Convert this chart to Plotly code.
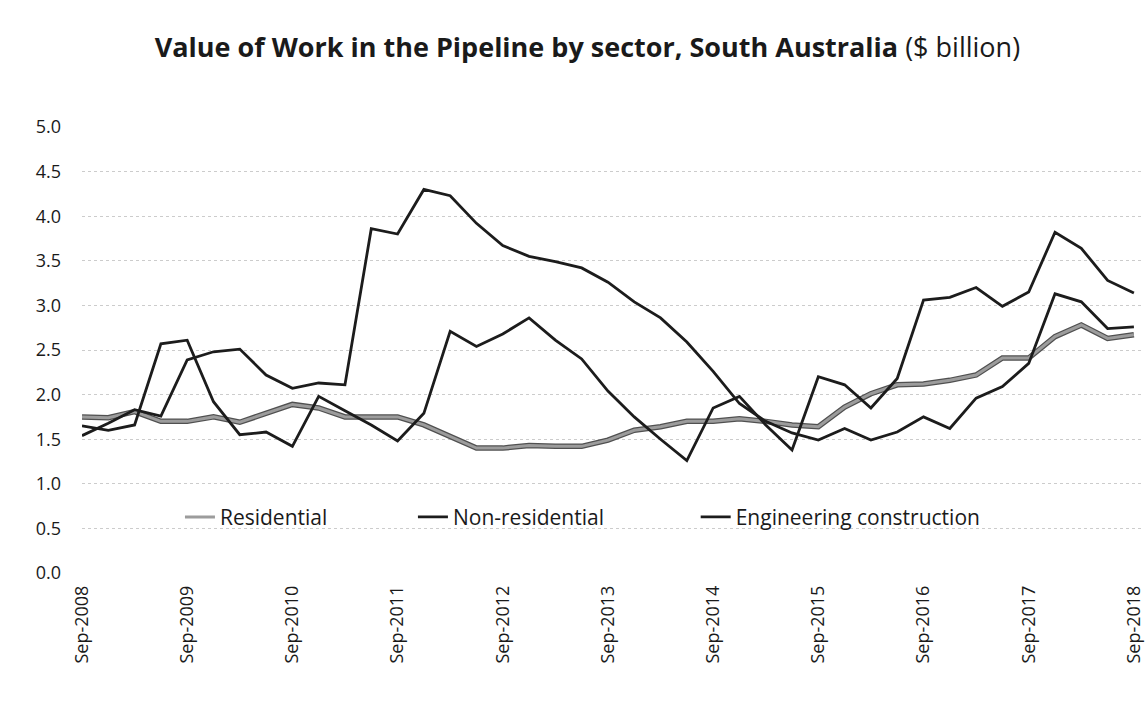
import plotly.graph_objects as go

years = list(range(2008, 2019))
tick_labels = [f"Sep-{y}" for y in years]
quarters = list(range(41))  # Sep-2008 .. Sep-2018, quarterly

residential = [1.75, 1.74, 1.81, 1.70, 1.70, 1.75, 1.69, 1.79, 1.89, 1.85,
               1.75, 1.75, 1.75, 1.66, 1.53, 1.40, 1.40, 1.43, 1.42, 1.42,
               1.49, 1.60, 1.64, 1.70, 1.70, 1.73, 1.70, 1.66, 1.64, 1.86,
               2.01, 2.11, 2.12, 2.16, 2.22, 2.41, 2.41, 2.65, 2.78, 2.63,
               2.67]

non_residential = [1.54, 1.68, 1.83, 1.76, 2.39, 2.48, 2.51, 2.22, 2.07, 2.13,
                   2.11, 3.86, 3.80, 4.30, 4.23, 3.92, 3.67, 3.55, 3.49, 3.42,
                   3.26, 3.04, 2.86, 2.59, 2.26, 1.90, 1.70, 1.57, 1.49, 1.62,
                   1.49, 1.58, 1.75, 1.62, 1.96, 2.09, 2.35, 3.13, 3.04, 2.74,
                   2.76]

engineering = [1.65, 1.60, 1.66, 2.57, 2.61, 1.92, 1.55, 1.58, 1.42, 1.98,
               1.82, 1.66, 1.48, 1.79, 2.71, 2.54, 2.68, 2.86, 2.61, 2.40,
               2.04, 1.75, 1.50, 1.26, 1.85, 1.98, 1.66, 1.38, 2.20, 2.11,
               1.85, 2.18, 3.06, 3.09, 3.20, 2.99, 3.15, 3.82, 3.64, 3.28,
               3.14]

FONT = "Open Sans"
DARK = "#1c1c1c"

fig = go.Figure()
# residential: grey line with darker edges (outline underneath)
fig.add_trace(go.Scatter(x=quarters, y=residential, mode="lines", name="Residential",
                         line=dict(color="#505050", width=5.5), showlegend=False,
                         hoverinfo="skip"))
fig.add_trace(go.Scatter(x=quarters, y=residential, mode="lines", name="Residential",
                         line=dict(color="#9c9c9c", width=3), legend="legend"))
fig.add_trace(go.Scatter(x=quarters, y=non_residential, mode="lines", name="Non-residential",
                         line=dict(color=DARK, width=2.8), legend="legend2"))
fig.add_trace(go.Scatter(x=quarters, y=engineering, mode="lines", name="Engineering construction",
                         line=dict(color=DARK, width=2.8), legend="legend3"))

leg_common = dict(orientation="h", xanchor="left", y=0.125, yanchor="middle",
                  bgcolor="rgba(0,0,0,0)", itemwidth=30,
                  font=dict(family=FONT, size=21, color="#1a1a1a"))

fig.update_layout(
    width=1145, height=704,
    paper_bgcolor="white", plot_bgcolor="white",
    margin=dict(l=82, r=0, t=127, b=131),
    font=dict(family=FONT, color="#1a1a1a"),
    title=dict(
        text="<b>Value of Work in the Pipeline by sector, South Australia</b> ($ billion)",
        x=0.513, xanchor="center", y=0.933, yanchor="middle",
        font=dict(family=FONT, size=27, color="#1a1a1a"),
    ),
    showlegend=True,
    legend=dict(x=0.0925, **leg_common),
    legend2=dict(x=0.3125, **leg_common),
    legend3=dict(x=0.5795, **leg_common),
    xaxis=dict(
        range=[0, 40.27], tickmode="array", tickvals=quarters[::4], ticktext=tick_labels,
        tickangle=-90, showgrid=False, zeroline=False, showline=False, ticks="",
        tickfont=dict(family=FONT, size=18, color="#1a1a1a"), ticklabelstandoff=8,
        ticklabeloverflow="allow",
    ),
    yaxis=dict(
        range=[0, 5.0], dtick=0.5, tickformat=".1f", showgrid=True,
        gridcolor="#cccccc", griddash="dot", gridwidth=1, zeroline=False,
        showline=False, ticks="", tickfont=dict(family=FONT, size=18, color="#1a1a1a"),
        ticklabelstandoff=20,
    ),
)

fig.write_html("out.html")
